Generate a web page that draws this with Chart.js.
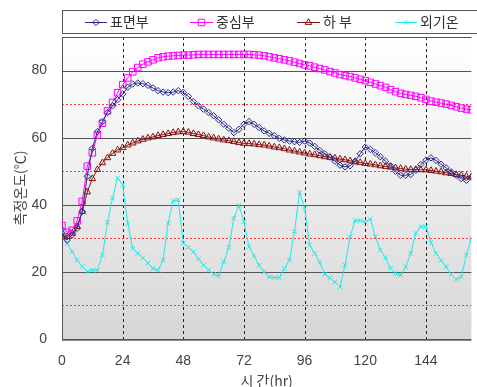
<!DOCTYPE html>
<html><head><meta charset="utf-8">
<script src="https://cdn.jsdelivr.net/npm/chart.js@4/dist/chart.umd.min.js"></script>
<style>html,body{margin:0;padding:0;background:#fff;}#wrap{width:477px;height:387px;}</style>
</head><body><div id="wrap"><canvas id="c" width="477" height="387"></canvas></div>
<script>
// ---- data (hours, °C) ----
const hours = [0,2,4,6,8,10,12,14,16,18,20,22,24,26,28,30,32,34,36,38,40,42,44,46,48,50,52,54,56,58,60,62,64,66,68,70,72,74,76,78,80,82,84,86,88,90,92,94,96,98,100,102,104,106,108,110,112,114,116,118,120,122,124,126,128,130,132,134,136,138,140,142,144,146,148,150,152,154,156,158,160,162];
const seriesNames = ['표면부','중심부','하 부','외기온'];
const surface = [31.5,29.5,31,33,38,48.5,56.8,61.8,64.8,67.5,69.5,71.3,73,75,76,76.3,76.1,75.6,74.8,74,73.6,73.4,73.6,74,73.5,72.3,70.8,69.5,68.5,67.5,66.5,65.3,64,62.8,61.5,62.5,64,64.8,64,63,62,61.3,60.6,59.8,59.3,59,58.8,58.6,59,58.4,57.4,56.2,55.2,54.2,53,51.8,51.3,51.6,53,55.2,57.2,56.5,55.5,54.3,53,51.6,50,48.8,48.8,49,50.3,52,53.3,54,53.2,52.1,51,49.8,48.8,47.8,47.3,48.2];
const center = [33.8,31.8,32.4,35.2,41,51.5,55.5,60.8,64.3,68,70.5,73.4,75.8,77.8,79.6,80.9,81.9,82.6,83.2,83.8,84.1,84.3,84.4,84.5,84.6,84.6,84.7,84.8,84.8,84.8,84.8,84.8,84.8,84.8,84.8,84.8,84.8,84.8,84.7,84.6,84.4,84.1,83.8,83.5,83.2,82.9,82.5,82.1,81.7,81.4,81,80.6,80.2,79.7,79.3,78.8,78.5,78.2,77.8,77.4,77,76.5,76,75.5,75,74.3,73.7,73.2,72.9,72.6,72.3,71.9,71.4,70.9,70.6,70.3,70,69.6,69.2,68.8,68.5,68.3];
const bottom = [30.4,30.5,31.5,33.5,38,43.8,47.8,50.5,52.5,54,55.3,56.3,57,57.8,58.4,59,59.5,59.9,60.2,60.6,60.9,61.2,61.5,61.7,61.8,61.6,61.2,60.9,60.6,60.2,59.9,59.6,59.3,59.1,58.8,58.5,58.3,58.2,58.1,57.9,57.8,57.5,57.2,57,56.7,56.3,56,55.7,55.4,55.1,54.9,54.6,54.3,54.1,53.9,53.6,53.4,53.1,52.8,52.6,52.3,52.1,51.9,51.6,51.4,51.2,51,50.8,50.6,50.5,50.5,50.4,50.4,50.2,50,49.8,49.5,49.3,49,48.8,48.5,48.3];
const ambient = [32,28.5,26,23.5,21.6,20.1,20.5,20.5,25,34.8,42,48,46,34.5,27,25.5,24.2,22.6,21,20.5,23.5,34.5,41.2,41.5,28.5,27.3,26,23.8,22,20.5,19.3,18.8,23,27.3,36,39.8,35,27.5,24.8,22,20,18.5,18.3,18.3,21,23.5,32,43.7,39,28,25.5,22.8,19.3,18.2,17,15.5,22,30.5,35.3,35.3,34.8,35.8,30.5,26.5,24.2,21,19.5,19,21.5,25.5,31.5,33.5,33.5,28.8,25.5,23.4,21.5,19.3,17.8,18.5,25,30];
const xTicks = [0,24,48,72,96,120,144];
const yTicks = [0,20,40,60,80];
const yMinorGrid = [10,30,50,70];
const xMax = 162, yMax = 90;
const yTitle = '측정온도(℃)';
const xTitle = '시 간(hr)';

const styles = [
  {color:'#2b2b8c', point:'rectRot', r:3.2},
  {color:'#ff00ff', point:'rect', r:4.6},
  {color:'#8b1010', point:'triangle', r:3.8},
  {color:'#22e8e8', point:'crossRot', r:3.2}
];
const values = [surface, center, bottom, ambient];
const toXY = arr => hours.map((h,i)=>({x:h, y:arr[i]}));

const datasets = values.map((v,i)=>({
  label: seriesNames[i],
  data: toXY(v),
  borderColor: styles[i].color,
  backgroundColor: 'rgba(255,255,255,0)',
  borderWidth: 1,
  pointStyle: styles[i].point,
  pointRadius: styles[i].r,
  pointBorderWidth: 1,
  pointBorderColor: styles[i].color,
  pointBackgroundColor: 'rgba(255,255,255,0)',
  tension: 0
}));

const bgPlugin = {
  id:'bg',
  beforeDraw(chart){
    const {ctx, chartArea:a} = chart;
    ctx.save();
    ctx.fillStyle = '#fff';
    ctx.fillRect(0,0,chart.width,chart.height);
    const g = ctx.createLinearGradient(0,a.top,0,a.bottom);
    g.addColorStop(0,'#ffffff');
    g.addColorStop(0.35,'#f3f3f3');
    g.addColorStop(1,'#d6d6d6');
    ctx.fillStyle = g;
    ctx.fillRect(a.left,a.top,a.right-a.left,a.bottom-a.top);
    ctx.restore();
  }
};

const gridPlugin = {
  id:'grid',
  beforeDatasetsDraw(chart){
    const {ctx, chartArea:a, scales:{x,y}} = chart;
    ctx.save();
    ctx.lineWidth = 1;
    // minor red dotted
    ctx.strokeStyle = '#ff3b3b';
    ctx.setLineDash([2,2]);
    yMinorGrid.forEach(v=>{
      const py = Math.round(y.getPixelForValue(v))+0.5;
      ctx.beginPath(); ctx.moveTo(a.left,py); ctx.lineTo(a.right,py); ctx.stroke();
    });
    // vertical dashed
    ctx.strokeStyle = '#222';
    ctx.setLineDash([3,3]);
    xTicks.forEach(v=>{
      if (v===0) return;
      const px = Math.round(x.getPixelForValue(v))+0.5;
      ctx.beginPath(); ctx.moveTo(px,a.top); ctx.lineTo(px,a.bottom); ctx.stroke();
    });
    // major solid
    ctx.setLineDash([]);
    ctx.strokeStyle = '#555';
    yTicks.forEach(v=>{
      const py = Math.round(y.getPixelForValue(v))+0.5;
      ctx.beginPath(); ctx.moveTo(a.left,py); ctx.lineTo(a.right,py); ctx.stroke();
    });
    // frame
    ctx.strokeStyle = '#555';
    const tp = Math.round(a.top)+0.5;
    ctx.beginPath(); ctx.moveTo(a.left,tp); ctx.lineTo(a.right,tp); ctx.stroke();
    const lp = Math.round(a.left)+0.5;
    ctx.beginPath(); ctx.moveTo(lp,a.top); ctx.lineTo(lp,a.bottom+1); ctx.stroke();
    ctx.strokeStyle = '#888';
    const bp = Math.round(a.bottom)+1.5;
    ctx.beginPath(); ctx.moveTo(a.left,bp); ctx.lineTo(a.right,bp); ctx.stroke();
    ctx.restore();
  }
};

function drawMarker(ctx, st, x, y){
  if (Chart.helpers && Chart.helpers.drawPoint) {
    ctx.strokeStyle = st.color; ctx.fillStyle='rgba(255,255,255,0)'; ctx.lineWidth=1;
    Chart.helpers.drawPoint(ctx, {pointStyle:st.point, radius:st.r, rotation:0, borderWidth:1}, x, y);
  }
}

const overlayPlugin = {
  id:'overlay',
  afterDraw(chart){
    const {ctx, chartArea:a} = chart;
    ctx.save();
    // legend box
    ctx.strokeStyle = '#555'; ctx.lineWidth = 1;
    ctx.strokeRect(62.5, 10.5, 420, 23);
    const items = [
      {x1:85, x2:107, tx:110},
      {x1:190, x2:213, tx:216},
      {x1:297, x2:320, tx:323},
      {x1:395, x2:417, tx:420}
    ];
    const ly = 22;
    ctx.font = '14px "Noto Sans CJK KR", sans-serif';
    ctx.textBaseline = 'middle';
    ctx.textAlign = 'left';
    items.forEach((it,i)=>{
      const st = styles[i];
      ctx.strokeStyle = st.color; ctx.lineWidth = 1;
      ctx.beginPath(); ctx.moveTo(it.x1, ly+0.5); ctx.lineTo(it.x2, ly+0.5); ctx.stroke();
      drawMarker(ctx, st, (it.x1+it.x2)/2, ly+0.5);
      ctx.fillStyle = '#333';
      ctx.fillText(seriesNames[i], it.tx, ly);
    });
    // axis titles
    ctx.fillStyle = '#444';
    ctx.font = '14px "Noto Sans CJK KR", sans-serif';
    ctx.textAlign = 'center';
    ctx.textBaseline = 'middle';
    ctx.fillText(xTitle, (a.left+a.right)/2, 381);
    ctx.translate(20, (a.top+a.bottom)/2);
    ctx.rotate(-Math.PI/2);
    ctx.fillText(yTitle, 0, 0);
    ctx.restore();
  }
};

new Chart(document.getElementById('c'), {
  type:'line',
  data:{datasets},
  options:{
    responsive:false,
    devicePixelRatio:1,
    animation:false,
    layout:{padding:{top:37,left:0,right:0,bottom:0}},
    plugins:{legend:{display:false}, tooltip:{enabled:false}, title:{display:false}},
    scales:{
      x:{
        type:'linear', min:0, max:xMax,
        grid:{display:false, drawTicks:false},
        border:{display:false},
        afterBuildTicks:s=>{s.ticks = xTicks.map(v=>({value:v}));},
        afterFit:s=>{s.height = 48;},
        ticks:{color:'#444', font:{size:14, family:'"Liberation Sans", Arial, sans-serif'}, padding:14, maxRotation:0, autoSkip:false}
      },
      y:{
        type:'linear', min:0, max:yMax,
        grid:{display:false, drawTicks:false},
        border:{display:false},
        afterBuildTicks:s=>{s.ticks = yTicks.map(v=>({value:v}));},
        afterFit:s=>{s.width = 62;},
        ticks:{color:'#444', font:{size:14, family:'"Liberation Sans", Arial, sans-serif'}, padding:15}
      }
    }
  },
  plugins:[bgPlugin, gridPlugin, overlayPlugin]
});
</script></body></html>
